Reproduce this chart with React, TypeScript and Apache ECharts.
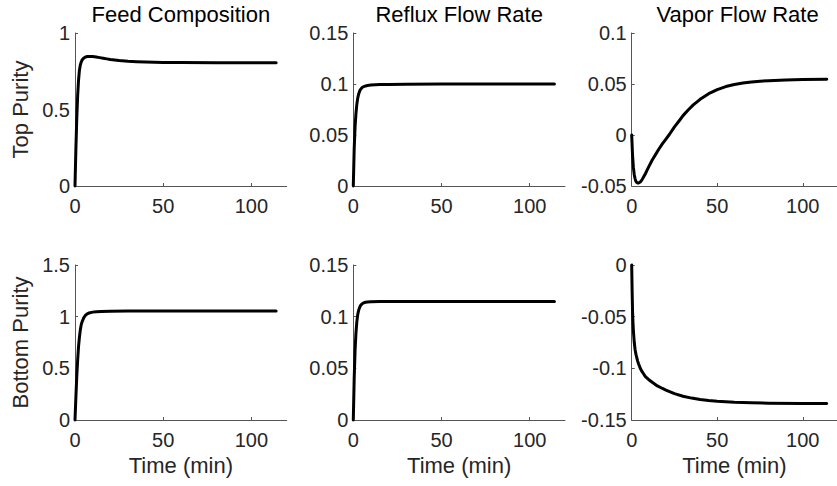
import React, { useEffect, useRef } from "react";
import * as echarts from "echarts";

const panelTitles = ["Feed Composition", "Reflux Flow Rate", "Vapor Flow Rate"];
const rowLabels = ["Top Purity", "Bottom Purity"];
const xLabel = "Time (min)";
const xTicks = [0, 50, 100];

const tFeedTop = [0, 0.5, 1, 1.5, 2, 2.5, 3, 3.5, 4, 5, 6, 7, 8, 9, 10, 12, 14, 16, 18, 20, 25, 30, 35, 40, 50, 60, 80, 100, 114];
const yFeedTop = [0, 0.24, 0.44, 0.59, 0.69, 0.755, 0.79, 0.81, 0.823, 0.836, 0.843, 0.846, 0.847, 0.847, 0.846, 0.843, 0.839, 0.835, 0.831, 0.827, 0.82, 0.815, 0.812, 0.81, 0.808, 0.807, 0.806, 0.806, 0.806];

const tRefluxTop = [0, 0.5, 1, 1.5, 2, 2.5, 3, 3.5, 4, 5, 6, 7, 8, 10, 15, 20, 30, 50, 80, 114];
const yRefluxTop = [0, 0.036, 0.058, 0.071, 0.08, 0.086, 0.09, 0.0925, 0.0945, 0.0965, 0.0975, 0.0981, 0.0985, 0.099, 0.0994, 0.0996, 0.0998, 0.1, 0.1, 0.1];

const tVaporTop = [0, 0.5, 1, 1.5, 2, 2.5, 3, 3.5, 4, 4.5, 5, 6, 7, 8, 9, 10, 12, 14, 16, 18, 20, 22, 25, 28, 30, 33, 36, 40, 45, 50, 55, 60, 65, 70, 75, 80, 90, 100, 114];
const yVaporTop = [0, -0.02, -0.032, -0.039, -0.043, -0.0455, -0.0465, -0.047, -0.047, -0.0465, -0.046, -0.044, -0.041, -0.038, -0.0345, -0.031, -0.0245, -0.019, -0.0135, -0.0085, -0.004, 0.0005, 0.008, 0.0145, 0.019, 0.0245, 0.0295, 0.035, 0.0405, 0.0445, 0.0475, 0.0495, 0.051, 0.052, 0.0528, 0.0533, 0.054, 0.0544, 0.0547];

const tFeedBottom = [0, 0.5, 1, 1.5, 2, 2.5, 3, 3.5, 4, 5, 6, 7, 8, 10, 12, 15, 20, 30, 50, 80, 114];
const yFeedBottom = [0, 0.22, 0.42, 0.58, 0.71, 0.8, 0.87, 0.92, 0.95, 0.99, 1.015, 1.028, 1.036, 1.044, 1.048, 1.051, 1.053, 1.054, 1.055, 1.055, 1.055];

const tRefluxBottom = [0, 0.5, 1, 1.5, 2, 2.5, 3, 3.5, 4, 5, 6, 7, 8, 10, 15, 20, 50, 80, 114];
const yRefluxBottom = [0, 0.04, 0.067, 0.084, 0.095, 0.102, 0.106, 0.1085, 0.1105, 0.1125, 0.1135, 0.1139, 0.1142, 0.1145, 0.1146, 0.1146, 0.1146, 0.1146, 0.1146];

const tVaporBottom = [0, 0.25, 0.5, 0.75, 1, 1.5, 2, 2.5, 3, 3.5, 4, 5, 6, 7, 8, 10, 12, 15, 18, 20, 25, 30, 35, 40, 45, 50, 60, 70, 80, 100, 114];
const yVaporBottom = [0, -0.025, -0.045, -0.056, -0.064, -0.075, -0.082, -0.0865, -0.09, -0.093, -0.0955, -0.1, -0.103, -0.1055, -0.108, -0.111, -0.1135, -0.117, -0.1195, -0.121, -0.1245, -0.127, -0.1288, -0.1302, -0.1311, -0.1318, -0.1328, -0.1334, -0.1337, -0.134, -0.1341];

const yRanges = [
  [0, 1, 0.5],
  [0, 0.15, 0.05],
  [-0.05, 0.1, 0.05],
  [0, 1.5, 0.5],
  [0, 0.15, 0.05],
  [-0.15, 0, 0.05],
];

const seriesT = [tFeedTop, tRefluxTop, tVaporTop, tFeedBottom, tRefluxBottom, tVaporBottom];
const seriesY = [yFeedTop, yRefluxTop, yVaporTop, yFeedBottom, yRefluxBottom, yVaporBottom];

const FONT = "'Liberation Sans', Arial, Helvetica, sans-serif";
const colLefts = [75, 353.3, 631.7];
const plotW = 211.7;
const rowTops = [33, 265];
const rowHeights = [153, 155];

export default function App() {
  const ref = useRef<HTMLDivElement>(null);
  useEffect(() => {
    if (!ref.current) return;
    const chart = echarts.init(ref.current, undefined, { renderer: "svg" });
    const grids: any[] = [];
    const xAxes: any[] = [];
    const yAxes: any[] = [];
    const series: any[] = [];
    for (let i = 0; i < 6; i++) {
      const r = Math.floor(i / 3);
      const c = i % 3;
      grids.push({ left: colLefts[c], top: rowTops[r], width: plotW, height: rowHeights[r], containLabel: false });
      xAxes.push({
        type: "value",
        gridIndex: i,
        min: 0,
        max: 120,
        interval: 50,
        name: r === 1 ? xLabel : "",
        nameLocation: "middle",
        nameGap: 34,
        nameTextStyle: { fontSize: 22, color: "#262626", fontFamily: FONT },
        axisLine: { show: true, onZero: false, lineStyle: { color: "#555", width: 1 } },
        axisTick: { show: true, inside: true, length: 3, customValues: xTicks, lineStyle: { color: "#555" } },
        axisLabel: { customValues: xTicks, fontSize: 20, color: "#262626", fontFamily: FONT, margin: 10 },
        splitLine: { show: false },
      });
      const [mn, mx, iv] = yRanges[i];
      yAxes.push({
        type: "value",
        gridIndex: i,
        min: mn,
        max: mx,
        interval: iv,
        name: c === 0 ? rowLabels[r] : "",
        nameLocation: "middle",
        nameGap: 44,
        nameTextStyle: { fontSize: 22, color: "#262626", fontFamily: FONT },
        axisLine: { show: true, onZero: false, lineStyle: { color: "#555", width: 1 } },
        axisTick: { show: true, inside: true, length: 3, lineStyle: { color: "#555" } },
        axisLabel: { fontSize: 20, color: "#262626", fontFamily: FONT, margin: 5 },
        splitLine: { show: false },
      });
      series.push({
        type: "line",
        xAxisIndex: i,
        yAxisIndex: i,
        data: seriesT[i].map((t, k) => [t, seriesY[i][k]]),
        showSymbol: false,
        smooth: false,
        lineStyle: { color: "#000", width: 3, join: "round", cap: "round" },
        clip: false,
      });
    }
    const graphics = panelTitles.map((t, c) => ({
      type: "text",
      x: colLefts[c] + plotW / 2,
      y: 3,
      style: {
        text: t,
        fontSize: 22,
        fontFamily: FONT,
        fill: "#000",
        align: "center",
        verticalAlign: "top",
      },
    }));
    chart.setOption({
      animation: false,
      backgroundColor: "#fff",
      graphic: graphics,
      grid: grids,
      xAxis: xAxes,
      yAxis: yAxes,
      series,
    });
    return () => chart.dispose();
  }, []);
  return (
    <div
      ref={ref}
      style={{ position: "fixed", left: 0, top: 0, width: 837, height: 486, background: "#fff" }}
    />
  );
}
